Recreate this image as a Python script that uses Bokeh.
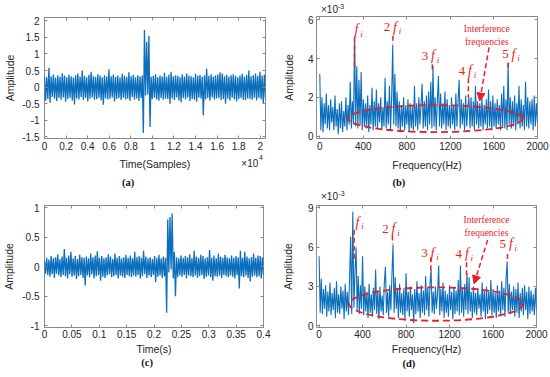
import numpy as np
from bokeh.plotting import figure
from bokeh.models import Range1d, FixedTicker, LinearAxis, Label, Arrow, NormalHead
from bokeh.core.properties import value
from bokeh.layouts import row, column
from bokeh.embed import file_html
from bokeh.resources import INLINE

# ---------------- data ----------------
total_samples = 20480          # panel (a) length in samples
duration_s = 0.4               # panel (c) length in seconds
freq_step_hz = 10              # spectrum bin spacing used here

sig_a = [
    0.34, -0.41, 0.30, -0.36, 0.58, -0.47, 0.33, -0.30, 0.38, -0.35, 0.29, -0.42, 0.36, -0.33, 0.31, -0.38, 0.42, -0.31, 0.35, -0.44,
    0.30, -0.36, 0.37, -0.32, 0.33, -0.40, 0.29, -0.52, 0.36, -0.34, 0.41, -0.37, 0.32, -0.30, 0.50, -0.39, 0.34, -0.33, 0.30, -0.43,
    0.37, -0.35, 0.46, -0.31, 0.33, -0.38, 0.31, -0.36, 0.39, -0.32, 0.35, -0.40, 0.30, -0.53, 0.36, -0.34, 0.32, -0.37, 0.54, -0.35,
    0.33, -0.31, 0.38, -0.43, 0.31, -0.36, 0.35, -0.33, 0.29, -0.39, 0.40, -0.32, 0.34, -0.37, 0.31, -0.35, 0.45, -0.41, 0.33, -0.30,
    0.37, -0.38, 0.30, -0.34, 0.36, -0.42, 0.32, -0.33, 0.35, -1.38, 1.72, -0.25, 1.36, -0.22, 1.55, -1.20, 0.31, -0.36, 0.34, -0.32,
    0.39, -0.37, 0.30, -0.41, 0.35, -0.33, 0.32, -0.38, 0.43, -0.35, 0.31, -0.36, 0.37, -0.50, 0.46, -0.34, 0.33, -0.39, 0.36, -0.31,
    0.34, -0.40, 0.30, -0.46, 0.38, -0.33, 0.32, -0.37, 0.41, -0.31, 0.35, -0.42, 0.33, -0.36, 0.30, -0.38, 0.40, -0.44, 0.34, -0.32,
    0.37, -0.35, 0.31, -0.85, 0.36, -0.37, 0.55, -0.33, 0.34, -0.41, 0.39, -0.31, 0.32, -0.38, 0.35, -0.34, 0.38, -0.33, 0.45, -0.39,
    0.41, -0.36, 0.33, -0.50, 0.37, -0.35, 0.31, -0.40, 0.36, -0.32, 0.39, -0.37, 0.34, -0.43, 0.30, -0.36, 0.35, -0.33, 0.40, -0.38,
    0.32, -0.39, 0.37, -0.34, 0.50, -0.36, 0.33, -0.38, 0.36, -0.32, 0.41, -0.40, 0.34, -0.33, 0.46, -0.37, 0.35, -0.48, 0.38, -0.35,
]

sig_c = [
    0.10, -0.12, 0.15, -0.14, 0.12, -0.17, 0.18, -0.13, 0.14, -0.19, 0.16, -0.12, 0.21, -0.15, 0.13, -0.18, 0.17, -0.14, 0.30, -0.16,
    0.15, -0.20, 0.19, -0.13, 0.25, -0.17, 0.14, -0.15, 0.18, -0.21, 0.13, -0.16, 0.20, -0.14, 0.16, -0.19, 0.15, -0.32, 0.17, -0.15,
    0.14, -0.18, 0.22, -0.13, 0.16, -0.20, 0.19, -0.16, 0.26, -0.14, 0.15, -0.24, 0.18, -0.17, 0.14, -0.19, 0.16, -0.15, 0.21, -0.13,
    0.17, -0.18, 0.13, -0.16, 0.22, -0.14, 0.15, -0.20, 0.18, -0.15, 0.14, -0.17, 0.16, -0.19, 0.20, -0.14, 0.15, -0.16, 0.19, -0.18,
    0.14, -0.15, 0.25, -0.17, 0.16, -0.14, 0.18, -0.20, 0.15, -0.16, 0.27, -0.13, 0.17, -0.19, 0.14, -0.15, 0.16, -0.18, 0.13, -0.14,
    0.18, -0.26, 0.15, -0.17, 0.20, -0.15, 0.14, -0.19, 0.17, -0.16, 0.15, -0.78, 0.80, -0.10, 0.84, -0.05, 0.90, -0.20, 0.25, -0.50,
    0.16, -0.18, 0.14, -0.15, 0.19, -0.17, 0.15, -0.14, 0.18, -0.20, 0.16, -0.15, 0.21, -0.16, 0.14, -0.18, 0.27, -0.15, 0.17, -0.19,
    0.15, -0.16, 0.20, -0.14, 0.18, -0.21, 0.14, -0.17, 0.16, -0.15, 0.28, -0.18, 0.15, -0.24, 0.19, -0.16, 0.14, -0.17, 0.22, -0.15,
    0.17, -0.19, 0.15, -0.14, 0.20, -0.16, 0.16, -0.18, 0.14, -0.15, 0.19, -0.17, 0.15, -0.20, 0.18, -0.14, 0.16, -0.37, 0.27, -0.16,
    0.15, -0.18, 0.25, -0.15, 0.17, -0.19, 0.14, -0.25, 0.16, -0.17, 0.22, -0.15, 0.15, -0.18, 0.19, -0.16, 0.18, -0.20, 0.16, -0.14,
]

# spectra, amplitude in units of 1e-3
spec_b = [
    3.2, 0.3, 2.0, 0.2, 1.7, 0.6, 2.2, 0.4, 1.6, 0.3,
    1.9, 0.7, 1.5, 0.3, 2.1, 0.5, 1.4, 0.1, 1.7, 0.4,
    1.8, 0.2, 1.3, 0.5, 2.0, 0.3, 1.6, 0.6, 2.8, 0.4,
    1.8, 0.6, 5.15, 0.5, 3.6, 0.4, 2.9, 0.6, 3.3, 0.3,
    1.9, 0.5, 1.7, 0.4, 2.1, 0.2, 1.6, 0.6, 2.5, 0.3,
    1.8, 0.5, 2.4, 0.4, 1.7, 0.7, 2.0, 0.3, 1.5, 0.5,
    3.0, 0.4, 1.8, 0.6, 2.6, 0.3, 1.9, 4.7, 0.6, 3.2,
    0.5, 2.3, 0.4, 1.8, 0.2, 1.6, 0.5, 2.0, 0.3, 1.6,
    0.6, 1.9, 0.2, 1.7, 0.4, 1.5, 0.3, 2.6, 0.5, 1.7,
    0.3, 2.0, 0.6, 1.6, 2.7, 0.4, 1.8, 0.5, 2.1, 0.3,
    2.3, 0.6, 2.8, 0.4, 3.6, 0.5, 2.0, 0.3, 1.8, 3.1,
    0.5, 2.2, 0.4, 1.7, 0.6, 2.3, 0.3, 1.9, 0.5, 1.6,
    0.4, 2.0, 0.6, 1.6, 0.3, 2.2, 0.5, 1.8, 2.9, 0.4,
    1.9, 0.6, 1.7, 0.3, 2.1, 0.5, 1.5, 2.0, 0.4, 2.0,
    0.5, 1.8, 0.3, 2.6, 0.6, 1.8, 0.4, 1.7, 0.5, 2.0,
    0.3, 1.6, 0.6, 1.9, 0.4, 2.4, 0.5, 1.8, 0.3, 2.1,
    0.5, 1.7, 0.4, 1.9, 0.6, 1.6, 0.3, 2.2, 0.5, 2.6,
    0.4, 1.9, 0.3, 3.75, 0.6, 2.0, 0.4, 1.8, 0.5, 2.1,
    0.3, 1.7, 0.6, 2.6, 0.4, 1.9, 0.5, 1.6, 0.3, 2.8,
    0.5, 2.0, 0.4, 1.8, 0.6, 1.9, 0.3, 2.1, 0.5, 1.7,
    0.7,
]

spec_d = [
    5.3, 1.0, 3.6, 0.9, 2.8, 1.3, 3.1, 0.7, 2.6, 1.1,
    3.3, 0.8, 2.5, 1.2, 2.9, 0.6, 3.4, 1.0, 2.4, 0.9,
    3.0, 1.3, 2.7, 0.5, 3.2, 1.1, 2.6, 0.8, 3.5, 6.8,
    0.9, 8.7, 1.4, 4.1, 6.0, 1.2, 3.8, 0.9, 3.1, 1.3,
    5.3, 0.8, 3.0, 1.1, 2.6, 0.6, 3.2, 1.0, 2.4, 0.7,
    2.9, 1.2, 4.3, 0.9, 2.7, 0.5, 3.0, 1.1, 2.3, 0.8,
    3.3, 4.5, 1.0, 2.6, 0.7, 3.1, 1.2, 3.9, 6.2, 1.0,
    3.7, 1.3, 2.8, 0.6, 3.2, 1.0, 2.5, 0.8, 2.9, 0.4,
    4.0, 1.1, 2.6, 0.7, 3.0, 1.2, 2.4, 0.2, 2.8, 0.9,
    3.4, 1.1, 2.5, 0.6, 3.1, 1.0, 2.7, 0.8, 3.8, 1.2,
    2.9, 0.7, 3.2, 4.3, 1.0, 2.6, 0.9, 3.0, 1.3, 2.5,
    4.6, 0.8, 2.8, 1.1, 3.3, 0.6, 2.7, 1.0, 2.4, 0.7,
    3.1, 1.2, 2.6, 0.5, 3.0, 0.9, 2.7, 1.1, 3.5, 0.8,
    4.6, 1.0, 2.9, 0.7, 3.2, 1.2, 4.0, 0.9, 3.7, 1.1,
    2.6, 0.6, 3.0, 1.0, 2.5, 0.8, 2.9, 1.3, 2.4, 0.7,
    3.3, 1.1, 2.7, 0.5, 3.0, 0.9, 2.6, 1.2, 3.5, 0.8,
    2.8, 1.0, 2.5, 0.6, 3.1, 1.1, 2.7, 0.8, 3.4, 1.2,
    2.9, 0.7, 3.6, 4.9, 1.0, 3.2, 0.9, 2.6, 1.2, 3.0,
    0.7, 2.8, 1.0, 3.3, 0.6, 2.5, 1.1, 2.9, 0.8, 3.1,
    1.2, 2.6, 0.5, 3.0, 0.9, 2.7, 1.1, 2.4, 0.8, 2.9,
    1.2,
]

harm_coefs = ["", "2", "3", "4", "5"]

# ---------------- styling ----------------
BLUE = "#0b6fbd"
RED = "#ec1c24"
AXC = "#8a8a8a"
TXT = "#262626"
SANS = "Liberation Sans"
SERIF = "Liberation Serif"


def make_fig(xr, yr, fw, fh, bl, br, bt, bb):
    p = figure(x_range=Range1d(*xr), y_range=Range1d(*yr),
               frame_width=fw, frame_height=fh,
               min_border_left=bl, min_border_right=br,
               min_border_top=bt, min_border_bottom=bb,
               output_backend="svg", toolbar_location=None, tools="")
    p.grid.visible = False
    p.outline_line_color = AXC
    p.outline_line_width = 1
    p.background_fill_color = "white"
    p.border_fill_color = "white"
    return p


def make_strip(bl, fw, br, h):
    """text-only strip under/over a panel, with the same side borders as the panel;
    its units are pixels measured from the panel frame's left edge and the strip bottom"""
    s = figure(x_range=Range1d(0, fw), y_range=Range1d(0, h), frame_width=fw, frame_height=h,
               min_border_left=bl, min_border_right=br, min_border_top=0, min_border_bottom=0,
               x_axis_type=None, y_axis_type=None,
               output_backend="svg", toolbar_location=None, tools="")
    s.grid.visible = False
    s.outline_line_color = None
    s.background_fill_color = "white"
    s.border_fill_color = "white"
    return s


def strip_text(s, x, y, text, size="10px", font=SANS, style="normal", color=TXT):
    s.text(x=[x], y=[y], text=[text], text_font=value(font), text_font_size=value(size),
           text_font_style=style, text_color=color, text_align="center",
           text_baseline="middle")


def style_axes(p, xt, xl, yt, yl, xlabel, ylabel, xls=3, xas=4, yls=4, yas=2):
    xa = p.xaxis[0]
    ya = p.yaxis[0]
    xa.ticker = FixedTicker(ticks=xt)
    xa.major_label_overrides = {t: l for t, l in zip(xt, xl)}
    ya.ticker = FixedTicker(ticks=yt)
    ya.major_label_overrides = {t: l for t, l in zip(yt, yl)}
    if xlabel:
        xa.axis_label = xlabel
    ya.axis_label = ylabel
    xa.major_label_standoff = xls
    xa.axis_label_standoff = xas
    ya.major_label_standoff = yls
    ya.axis_label_standoff = yas
    for ax in (xa, ya):
        ax.axis_line_color = None
        ax.major_tick_in = 3
        ax.major_tick_out = 0
        ax.major_tick_line_color = AXC
        ax.minor_tick_line_color = None
        ax.major_label_text_font = SANS
        ax.major_label_text_font_size = "10px"
        ax.major_label_text_color = TXT
        ax.axis_label_text_font = SANS
        ax.axis_label_text_font_size = "10.5px"
        ax.axis_label_text_font_style = "normal"
        ax.axis_label_text_color = TXT
    top = LinearAxis(ticker=FixedTicker(ticks=xt))
    right = LinearAxis(ticker=FixedTicker(ticks=yt))
    for ax in (top, right):
        ax.axis_line_color = None
        ax.major_tick_in = 3
        ax.major_tick_out = 0
        ax.major_tick_line_color = AXC
        ax.minor_tick_line_color = None
        ax.major_label_text_font_size = "1px"
        ax.major_label_text_color = None
        ax.major_label_standoff = 0
    p.add_layout(top, "above")
    p.add_layout(right, "right")


def label(p, x, y, text, size="10px", font=SANS, style="normal", color=TXT, xoff=0):
    p.add_layout(Label(x=x, y=y, text=text, text_font=font, text_font_size=size,
                       text_font_style=style, text_color=color, text_align="center",
                       text_baseline="middle", x_offset=xoff))


def harmonic_label(p, coef, x, y, sub_dy):
    label(p, x, y, "f", size="14px", font=SERIF, style="italic", color=RED)
    label(p, x, y - sub_dy, "i", size="9px", font=SERIF, style="italic", color=RED, xoff=5)
    if coef:
        label(p, x, y, coef, size="13px", font=SERIF, color=RED, xoff=-8)


def spectrum_annotations(p, labels_xy, sub_dy, dashes, interf, arrow, ell):
    for coef, (x, y) in zip(harm_coefs, labels_xy):
        harmonic_label(p, coef, x, y, sub_dy)
    p.segment(x0=[d[0] for d in dashes], y0=[d[1] for d in dashes],
              x1=[d[0] for d in dashes], y1=[d[2] for d in dashes],
              line_color=RED, line_width=1.5, line_dash="5 3")
    ix, iy1, iy2 = interf
    label(p, ix, iy1, "Interference", size="9.5px", font=SERIF, color=RED)
    label(p, ix, iy2, "frequencies", size="9.5px", font=SERIF, color=RED)
    p.add_layout(Arrow(end=NormalHead(size=8, fill_color=RED, line_color=RED, line_width=1),
                       x_start=arrow[0], y_start=arrow[1], x_end=arrow[2], y_end=arrow[3],
                       line_color=RED, line_width=1.5, line_dash="5 3"))
    p.ellipse(x=[ell[0]], y=[ell[1]], width=[ell[2]], height=[ell[3]],
              fill_color=None, line_color=RED, line_width=1.8, line_dash="7 4")


CAP = dict(size="10.5px", font=SERIF, style="bold", color="#111111")

# ---------------- panel (a) ----------------
pa = make_fig((0, total_samples), (-1.55, 2.1), 221, 121, 43, 11, 17, 16)
xa_vals = np.linspace(0, total_samples, len(sig_a))
pa.line(xa_vals, sig_a, line_color=BLUE, line_width=1.3)
style_axes(pa, [0, 2000, 4000, 6000, 8000, 10000, 12000, 14000, 16000, 18000, 20000],
           ["0", "0.2", "0.4", "0.6", "0.8", "1", "1.2", "1.4", "1.6", "1.8", "2"],
           [-1.5, -1, -0.5, 0, 0.5, 1, 1.5, 2],
           ["-1.5", "-1", "-0.5", "0", "0.5", "1", "1.5", "2"],
           None, "Amplitude", xls=3, yls=5, yas=3)

sA = make_strip(43, 221, 11, 47)
strip_text(sA, 110.4, 37.7, "Time(Samples)", size="10.5px")
strip_text(sA, 205.3, 38, "\u00d710", size="10px")
strip_text(sA, 216.5, 44, "4", size="7px")
strip_text(sA, 83.7, 19.3, "(a)", **CAP)

# ---------------- panel (b) ----------------
sTopB = make_strip(41, 221, 13, 15)
strip_text(sTopB, 13, 6.5, "\u00d710", size="10px")
strip_text(sTopB, 24.5, 9.3, "-3", size="7px")

pb = make_fig((-30, 2000), (-0.12, 6.165), 221, 122, 41, 13, 1, 16)
fb = np.arange(len(spec_b)) * freq_step_hz
pb.line(fb, spec_b, line_color=BLUE, line_width=1.1)
style_axes(pb, [0, 400, 800, 1200, 1600, 2000], ["0", "400", "800", "1200", "1600", "2000"],
           [0, 2, 4, 6], ["0", "2", "4", "6"], None, "Amplitude",
           xls=3, yls=3, yas=10)
spectrum_annotations(
    pb,
    [(338, 5.47), (690, 5.6), (1040, 4.14), (1380, 3.36), (1779, 4.22)], 0.2,
    [(319, 5.1, 3.6), (672, 5.17, 4.74), (1034, 3.7, 3.36), (1365, 2.98, 1.98), (1730, 3.79, 3.45)],
    (1534, 5.52, 4.83),
    (1555, 4.57, 1469, 1.81),
    (1062, 0.905, 1601, 1.39),
)

sB = make_strip(41, 221, 13, 48)
strip_text(sB, 110.5, 38, "Frequency(Hz)", size="10.5px")
strip_text(sB, 82.3, 20.3, "(b)", **CAP)
strip_text(sB, 13, 6.5, "\u00d710", size="10px")
strip_text(sB, 25, 9.5, "-3", size="7px")

# ---------------- panel (c) ----------------
pc = make_fig((0, duration_s), (-1.03, 1.035), 219, 122, 44, 12, 4, 30)
xc_vals = np.linspace(0, duration_s, len(sig_c))
pc.line(xc_vals, sig_c, line_color=BLUE, line_width=1.3)
style_axes(pc, [0, 0.05, 0.1, 0.15, 0.2, 0.25, 0.3, 0.35, 0.4],
           ["0", "0.05", "0.1", "0.15", "0.2", "0.25", "0.3", "0.35", "0.4"],
           [-1, -0.5, 0, 0.5, 1], ["-1", "-0.5", "0", "0.5", "1"],
           "Time(s)", "Amplitude", xls=2, xas=2, yls=5, yas=4)

sC = make_strip(44, 219, 12, 20)
strip_text(sC, 102.7, 15.3, "(c)", **CAP)

# ---------------- panel (d) ----------------
pd_ = make_fig((-24, 2000), (-0.13, 9.18), 220, 122, 41, 14, 3, 30)
fd = np.arange(len(spec_d)) * freq_step_hz
pd_.line(fd, spec_d, line_color=BLUE, line_width=1.1)
style_axes(pd_, [0, 400, 800, 1200, 1600, 2000], ["0", "400", "800", "1200", "1600", "2000"],
           [0, 3, 6, 9], ["0", "3", "6", "9"], "Frequency(Hz)", "Amplitude",
           xls=2, xas=2, yls=3, yas=11)
spectrum_annotations(
    pd_,
    [(353, 7.9), (684, 7.4), (1043, 5.54), (1359, 5.48), (1764, 6.25)], 0.3,
    [(322, 7.32, 5.1), (675, 6.89, 6.25), (1028, 5.23, 3.95), (1356, 4.85, 3.57), (1733, 5.48, 4.85)],
    (1540, 8.09, 7.09),
    (1550, 6.55, 1426, 3.2),
    (1076, 1.66, 1601, 2.55),
)

sD = make_strip(41, 220, 14, 20)
strip_text(sD, 92.3, 14.3, "(d)", **CAP)

left_col = column(pa, sA, pc, sC, spacing=0)
right_col = column(sTopB, pb, sB, pd_, sD, spacing=0)
layout = row(left_col, right_col, spacing=0)

with open("out.html", "w") as f:
    f.write(file_html(layout, INLINE))
